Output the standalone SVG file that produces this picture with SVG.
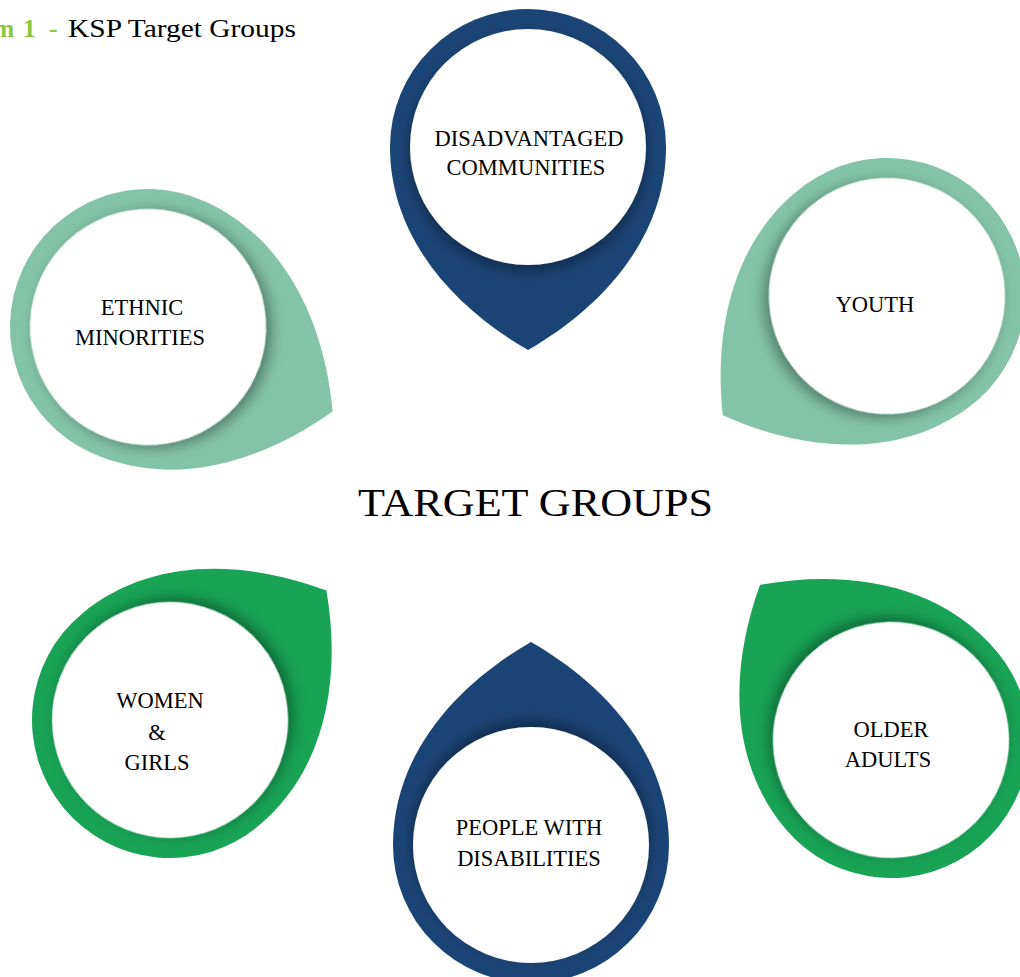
<svg xmlns="http://www.w3.org/2000/svg" xmlns:xlink="http://www.w3.org/1999/xlink" width="1020" height="977" viewBox="0 0 1020 977">
  <style>
    .lbl { font-family: "Liberation Serif", "Times New Roman", serif; font-size: 22.5px; fill: #000; text-anchor: middle; }
    .navy { fill: #1B4476; }
    .mint { fill: #83C4A8; }
    .green { fill: #18A355; }
    .hole { fill: #fff; filter: url(#innerShade); }
  </style>
  <defs>
    <!-- pin: round head of radius 138 centred on the origin, point at (0,203) -->
    <path id="pin" d="M 138 0 C 138 90 75 160 0 203 C -75 160 -138 90 -138 0 A 138 138 0 0 1 138 0 Z"/>
    <!-- shadow of the white disc, cast toward the point of the pin -->
    <filter id="innerShade" x="-30%" y="-30%" width="160%" height="160%">
      <feDropShadow dx="0" dy="6" stdDeviation="7" flood-color="#000" flood-opacity="0.38"/>
    </filter>
  </defs>

  <rect width="1020" height="977" fill="#fff"/>

  <!-- caption -->
  <g id="caption" font-family="'Liberation Serif', 'Times New Roman', serif" font-size="25.5">
    <text y="36.5" fill="#8CC63F" font-weight="bold"><tspan x="-7">m</tspan><tspan x="23">1</tspan><tspan x="49">-</tspan></text>
    <text x="68" y="36.5" fill="#000" textLength="228" lengthAdjust="spacingAndGlyphs">KSP Target Groups</text>
  </g>

  <g id="connectors"/>

  <g id="disadvantaged-communities">
    <g transform="translate(528 147)">
      <use xlink:href="#pin" class="navy"/>
      <circle r="118" class="hole"/>
    </g>
    <text class="lbl" x="529" y="146">DISADVANTAGED</text>
    <text class="lbl" x="526" y="175">COMMUNITIES</text>
  </g>

  <g id="ethnic-minorities">
    <g transform="translate(148 327) rotate(-65.5)">
      <use xlink:href="#pin" class="mint"/>
      <circle r="118" class="hole"/>
    </g>
    <text class="lbl" x="142" y="315">ETHNIC</text>
    <text class="lbl" x="140" y="345">MINORITIES</text>
  </g>

  <g id="youth">
    <g transform="translate(887 296) rotate(54)">
      <use xlink:href="#pin" class="mint"/>
      <circle r="118" class="hole"/>
    </g>
    <text class="lbl" x="875" y="312">YOUTH</text>
  </g>

  <g id="target-groups">
    <text x="358" y="515.5" font-family="'Liberation Serif', 'Times New Roman', serif" font-size="39" fill="#000" textLength="355" lengthAdjust="spacingAndGlyphs">TARGET GROUPS</text>
  </g>

  <g id="women-and-girls">
    <g transform="translate(170 720) rotate(-129.6)">
      <use xlink:href="#pin" class="green"/>
      <circle r="118" class="hole"/>
    </g>
    <text class="lbl" x="160" y="708">WOMEN</text>
    <text class="lbl" x="157" y="740">&amp;</text>
    <text class="lbl" x="157" y="770">GIRLS</text>
  </g>

  <g id="older-adults">
    <g transform="translate(891 740) rotate(139.8)">
      <use xlink:href="#pin" class="green"/>
      <circle r="118" class="hole"/>
    </g>
    <text class="lbl" x="891" y="737">OLDER</text>
    <text class="lbl" x="888" y="767">ADULTS</text>
  </g>

  <g id="people-with-disabilities">
    <g transform="translate(531 845) rotate(180)">
      <use xlink:href="#pin" class="navy"/>
      <circle r="118" class="hole"/>
    </g>
    <text class="lbl" x="529" y="835">PEOPLE WITH</text>
    <text class="lbl" x="529" y="866">DISABILITIES</text>
  </g>
</svg>
